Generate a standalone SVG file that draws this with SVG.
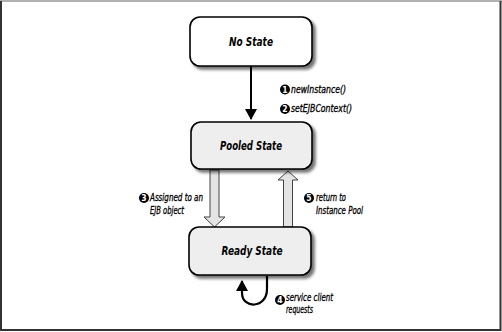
<svg xmlns="http://www.w3.org/2000/svg" width="502" height="332" viewBox="0 0 502 332">
<style>
.box{stroke:#000;stroke-width:1.6}
.title{font-family:"DejaVu Sans Condensed","DejaVu Sans",sans-serif;font-weight:bold;font-style:italic;font-size:13px;text-anchor:middle;fill:#000}
.lbl{font-family:"DejaVu Sans Condensed","DejaVu Sans",sans-serif;font-style:italic;font-size:10.5px;fill:#000;stroke:#000;stroke-width:0.3}
.num{font-family:"DejaVu Sans Condensed","DejaVu Sans",sans-serif;font-weight:bold;font-size:8.5px;fill:#fff;text-anchor:middle}
.hollow{fill:#e4e4e4;stroke:#444;stroke-width:1}
</style>
<defs>
<filter id="sh" x="-20%" y="-20%" width="140%" height="160%">
<feGaussianBlur in="SourceAlpha" stdDeviation="1.8"/>
<feOffset dx="3" dy="3" result="b"/>
<feComponentTransfer><feFuncA type="linear" slope="0.55"/></feComponentTransfer>
<feMerge><feMergeNode/><feMergeNode in="SourceGraphic"/></feMerge>
</filter>
<marker id="ah" markerWidth="12" markerHeight="12" refX="10" refY="6" orient="auto" markerUnits="userSpaceOnUse">
<path d="M0,0 L11,6 L0,12 z" fill="#000"/>
</marker>
</defs>
<rect width="502" height="332" fill="#fff"/>
<line x1="0" y1="1" x2="502" y2="1" stroke="#999" stroke-width="1.5"/>
<path d="M1,1 V330 H500.5 V1" fill="none" stroke="#333" stroke-width="2"/>

<g id="connectors">
<line x1="251" y1="66" x2="251" y2="119" stroke="#000" stroke-width="2" marker-end="url(#ah)"/>
<path class="hollow" d="M210,170 H219 V217 H225 L214.5,227 L204,217 H210 Z"/>
<path class="hollow" d="M283.5,227 V180 H278 L288,171 L298,180 H292.5 V227 Z"/>
<path d="M267,276 V289 C267,309 242,309 242,293 V281" fill="none" stroke="#000" stroke-width="2.2" marker-end="url(#ah)"/>
</g>

<g id="no-state">
<rect class="box" x="190" y="17" width="122" height="49" rx="10" fill="#fff" filter="url(#sh)"/>
<text class="title" x="251" y="46" textLength="44" lengthAdjust="spacingAndGlyphs">No State</text>
</g>
<g id="pooled-state">
<rect class="box" x="191" y="122" width="121" height="47" rx="10" fill="#eeeeee" filter="url(#sh)"/>
<text class="title" x="251" y="150" textLength="62" lengthAdjust="spacingAndGlyphs">Pooled State</text>
</g>
<g id="ready-state">
<rect class="box" x="189" y="227" width="122" height="48" rx="10" fill="#eeeeee" filter="url(#sh)"/>
<text class="title" x="252" y="255" textLength="61" lengthAdjust="spacingAndGlyphs">Ready State</text>
</g>

<g id="labels">
<circle cx="285" cy="89.5" r="5"/><text class="num" x="285" y="92.5">1</text>
<text class="lbl" x="291" y="93" textLength="55" lengthAdjust="spacingAndGlyphs">newInstance()</text>
<circle cx="285" cy="109" r="5"/><text class="num" x="285" y="112">2</text>
<text class="lbl" x="291" y="112" textLength="61" lengthAdjust="spacingAndGlyphs">setEJBContext()</text>
<circle cx="144" cy="198" r="5"/><text class="num" x="144" y="201">3</text>
<text class="lbl" x="150" y="201" textLength="53" lengthAdjust="spacingAndGlyphs">Assigned to an</text>
<text class="lbl" x="150" y="214" textLength="34" lengthAdjust="spacingAndGlyphs">EJB object</text>
<circle cx="309" cy="198" r="5"/><text class="num" x="309" y="201">5</text>
<text class="lbl" x="316" y="201" textLength="30" lengthAdjust="spacingAndGlyphs">return to</text>
<text class="lbl" x="316" y="214" textLength="47" lengthAdjust="spacingAndGlyphs">Instance Pool</text>
<circle cx="280" cy="300" r="5"/><text class="num" x="280" y="303">4</text>
<text class="lbl" x="286" y="301" textLength="47" lengthAdjust="spacingAndGlyphs">service client</text>
<text class="lbl" x="286" y="313" textLength="27" lengthAdjust="spacingAndGlyphs">requests</text>
</g>
</svg>
